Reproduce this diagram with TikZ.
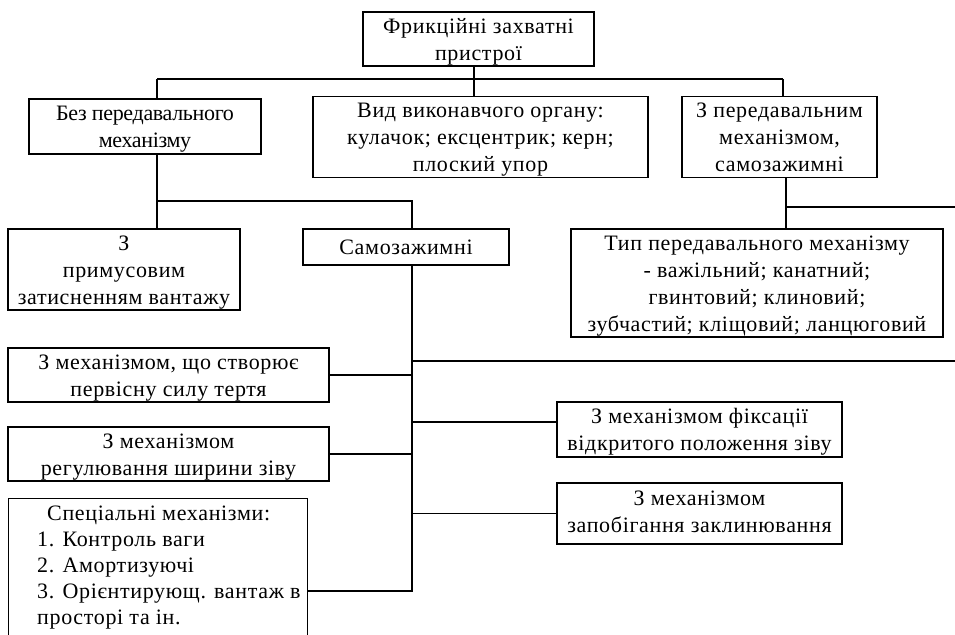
\documentclass[tikz,border=0pt]{standalone}
\usepackage{fontspec}
\setmainfont[LetterSpace=3]{Liberation Serif}
\newfontfamily\tightserif[LetterSpace=-1.5]{Liberation Serif}
\newcommand{\bxt}[2][-2.5pt]{\raisebox{#1}[\height][\depth]{\begin{tabular}{@{}c@{}}#2\end{tabular}}}
\begin{document}
\begin{tikzpicture}[x=1pt,y=-1pt,
  box/.style={draw, line width=1.1pt, align=center, inner sep=0pt,
    font=\fontsize{22}{27}\selectfont},
  conn/.style={line width=1.1pt}]
\useasboundingbox (0,0) rectangle (955,634);
\clip (0,0) rectangle (955,634);
% boxes
\node[box, minimum width=231, minimum height=54] (top) at (478.5,39) {\bxt{Фрикційні захватні\\пристрої}};
\node[box, minimum width=232, minimum height=55, font=\fontsize{22}{27}\tightserif] (bez) at (145,126.5) {\bxt{Без передавального\\механізму}};
\node[box, minimum width=335, minimum height=80] (vyd) at (480.5,137) {\bxt{Вид виконавчого органу:\\кулачок; ексцентрик; керн;\\плоский упор}};
\node[box, minimum width=195, minimum height=80] (zper) at (779.5,137) {\bxt{З передавальним\\механізмом,\\самозажимні}};
\node[box, minimum width=232, minimum height=81] (prymus) at (124,269.5) {\bxt{З\\примусовим\\затисненням вантажу}};
\node[box, minimum width=206, minimum height=36] (samo) at (406,247) {\bxt{Самозажимні}};
\node[box, minimum width=372, minimum height=108] (typ) at (757,283) {\bxt{Тип передавального механізму\\- важільний; канатний;\\гвинтовий; клиновий;\\зубчастий; кліщовий; ланцюговий}};
\node[box, minimum width=321, minimum height=54] (perv) at (168.5,375) {\bxt{З механізмом, що створює\\первісну силу тертя}};
\node[box, minimum width=321, minimum height=54] (reg) at (168.5,454) {\bxt{З механізмом\\регулювання ширини зіву}};
\node[box, minimum width=285, minimum height=55] (fix) at (699.5,429.5) {\bxt{З механізмом фіксації\\відкритого положення зіву}};
\node[box, minimum width=285, minimum height=61] (zap) at (699.5,513.5) {\bxt[0pt]{З механізмом\\запобігання заклинювання}};
\node[box, minimum width=299, minimum height=170, anchor=north west] (spec) at (8,498) {};
\node[anchor=north west, align=left, inner sep=0pt, font=\fontsize{22}{26}\selectfont] (spectext) at (37,506)
  {\hspace*{10pt}Спеціальні механізми:\\1. Контроль ваги\\2. Амортизуючі\\3. Орієнтирующ. вантаж в\\просторі та ін.};
% junction coordinates
\coordinate (hL) at (157,79);
\coordinate (hR) at (783,79);
\coordinate (tm) at (474,79);
\coordinate (b2) at (157,201);
\coordinate (s2) at (412,201);
\coordinate (z2) at (786,207);
\coordinate (zE) at (955,207);
\coordinate (v1) at (412,361);
\coordinate (vE) at (955,361);
\coordinate (v2) at (412,592);
\coordinate (cf) at (412,422);
\coordinate (cs) at (412,591);
% connectors
\draw[conn] (top.south -| tm) -- (tm |- vyd.north);
\draw[conn] (hL) -- (hR);
\draw[conn] (hL) -- (hL |- bez.north);
\draw[conn] (hR) -- (hR |- zper.north);
\draw[conn] (bez.south -| b2) -- (b2) -- (s2) -- (s2 |- samo.north);
\draw[conn] (b2) -- (b2 |- prymus.north);
\draw[conn] (zper.south -| z2) -- (z2 |- typ.north);
\draw[conn] (z2) -- (zE);
\draw[conn] (samo.south -| v1) -- (v1) -- (v2);
\draw[conn] (v1) -- (vE);
\draw[conn] (perv.east) -- (perv.east -| v1);
\draw[conn] (reg.east) -- (reg.east -| v1);
\draw[conn] (cs -| spec.east) -- (cs);
\draw[conn] (cf) -- (cf -| fix.west);
\draw[conn] (zap.west -| v1) -- (zap.west);
\end{tikzpicture}
\end{document}
